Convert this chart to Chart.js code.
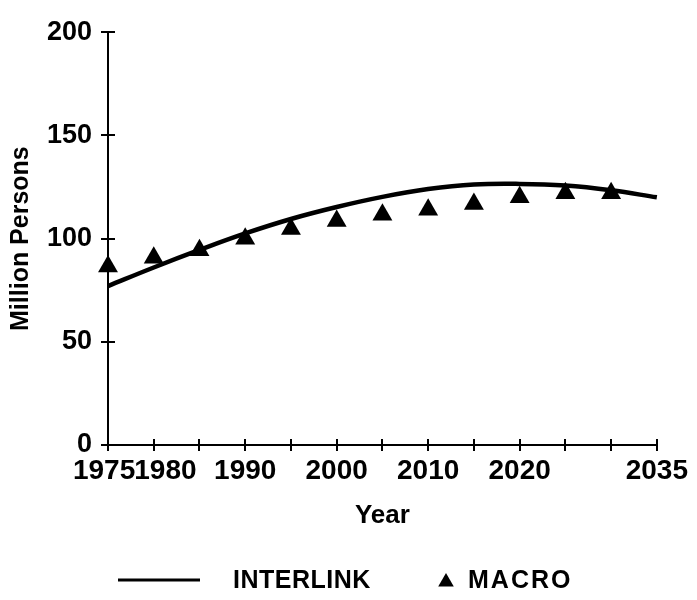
<!DOCTYPE html>
<html>
<head>
<meta charset="utf-8">
<script src="https://cdn.jsdelivr.net/npm/chart.js@4/dist/chart.umd.min.js"></script>
<style>
  html, body { margin: 0; padding: 0; background: #fff; }
  #wrap { width: 697px; height: 600px; position: relative; }
</style>
</head>
<body>
<div id="wrap"><canvas id="c" width="697" height="600"></canvas></div>
<script>
// ---- Data ----
const interlinkYears = [1975, 1980, 1985, 1990, 1995, 2000, 2005, 2010, 2015, 2020, 2025, 2030, 2035];
const interlinkValues = [77, 86, 94.5, 102.5, 109.5, 115.3, 120.2, 124, 126.2, 126.5, 125.7, 123.4, 120];
const macroYears = [1975, 1980, 1985, 1990, 1995, 2000, 2005, 2010, 2015, 2020, 2025, 2030];
const macroValues = [86.5, 90.7, 94.3, 99.9, 104.6, 108.5, 111.6, 114, 116.8, 120, 122, 122];

const xTickYears = [1975, 1980, 1985, 1990, 1995, 2000, 2005, 2010, 2015, 2020, 2025, 2030, 2035];
const xTickLabels = ['1975', '1980', '', '1990', '', '2000', '', '2010', '', '2020', '', '', '2035'];
const yTickValues = [0, 50, 100, 150, 200];
const yTickLabels = ['0', '50', '100', '150', '200'];

const seriesNames = ['INTERLINK', 'MACRO'];
const xTitle = 'Year';
const yTitle = 'Million Persons';

const FONT = "'Liberation Sans', Arial, Helvetica, sans-serif";
Chart.defaults.font.family = FONT;
Chart.defaults.color = '#000';

// crossing tick marks on both axes
const crossTicks = {
  id: 'crossTicks',
  afterDatasetsDraw(chart) {
    const { ctx, chartArea, scales } = chart;
    ctx.save();
    ctx.strokeStyle = '#000';
    ctx.lineWidth = 2;
    scales.x.ticks.forEach(t => {
      const px = Math.round(scales.x.getPixelForValue(t.value));
      ctx.beginPath();
      ctx.moveTo(px, chartArea.bottom - 6);
      ctx.lineTo(px, chartArea.bottom + 6);
      ctx.stroke();
    });
    scales.y.ticks.forEach(t => {
      const py = Math.round(scales.y.getPixelForValue(t.value));
      ctx.beginPath();
      ctx.moveTo(chartArea.left - 7, py);
      ctx.lineTo(chartArea.left + 7, py);
      ctx.stroke();
    });
    ctx.restore();
  }
};

// legend drawn below the axis title
const bottomLegend = {
  id: 'bottomLegend',
  afterDraw(chart) {
    const { ctx } = chart;
    const y = 580;
    ctx.save();
    ctx.fillStyle = '#000';
    ctx.strokeStyle = '#000';
    ctx.lineWidth = 3;
    ctx.beginPath();
    ctx.moveTo(118, y);
    ctx.lineTo(200, y);
    ctx.stroke();
    ctx.font = 'bold 25px ' + FONT;
    if ('letterSpacing' in ctx) ctx.letterSpacing = '0.5px';
    ctx.textBaseline = 'middle';
    ctx.textAlign = 'left';
    ctx.fillText(seriesNames[0], 233, y + 1);
    // triangle marker
    const r = 9, cx = 446, cy = y + 2;
    ctx.beginPath();
    ctx.moveTo(cx, cy - r);
    ctx.lineTo(cx + r * Math.sin(2 * Math.PI / 3), cy - r * Math.cos(2 * Math.PI / 3));
    ctx.lineTo(cx + r * Math.sin(4 * Math.PI / 3), cy - r * Math.cos(4 * Math.PI / 3));
    ctx.closePath();
    ctx.fill();
    if ('letterSpacing' in ctx) ctx.letterSpacing = '2px';
    ctx.fillText(seriesNames[1], 468, y + 1);
    ctx.restore();
  }
};

new Chart(document.getElementById('c'), {
  type: 'line',
  data: {
    datasets: [
      {
        label: seriesNames[0],
        data: interlinkYears.map((x, i) => ({ x, y: interlinkValues[i] })),
        borderColor: '#000',
        borderWidth: 4.5,
        pointRadius: 0,
        tension: 0.4,
        fill: false,
        clip: false
      },
      {
        label: seriesNames[1],
        data: macroYears.map((x, i) => ({ x, y: macroValues[i] })),
        showLine: false,
        pointStyle: 'triangle',
        pointRadius: 11.5,
        backgroundColor: '#000',
        borderColor: '#000',
        borderWidth: 0,
        clip: false
      }
    ]
  },
  options: {
    responsive: false,
    animation: false,
    events: [],
    layout: { padding: { left: 0, right: 38, top: 21, bottom: 65 } },
    plugins: { legend: { display: false }, tooltip: { enabled: false } },
    scales: {
      x: {
        type: 'linear',
        min: xTickYears[0],
        max: xTickYears[xTickYears.length - 1],
        afterBuildTicks: s => { s.ticks = xTickYears.map(v => ({ value: v })); },
        afterFit: s => { s.height = 90; },
        grid: { display: false, drawTicks: false },
        border: { display: true, color: '#000', width: 2 },
        ticks: {
          autoSkip: false,
          maxRotation: 0,
          padding: 9,
          font: { size: 28, weight: 'bold' },
          color: '#000',
          callback: (v) => {
            const i = xTickYears.indexOf(v);
            let lab = i >= 0 ? xTickLabels[i] : '';
            // the reference nudges the crowded first two labels apart
            if (i === 0) lab = lab + ' ';
            if (i === 1) lab = '   ' + lab;
            return lab;
          }
        },
        title: { display: true, text: xTitle, font: { size: 26, weight: 'bold' }, color: '#000', padding: { top: 0, bottom: 4 } }
      },
      y: {
        min: yTickValues[0],
        max: yTickValues[yTickValues.length - 1],
        afterBuildTicks: s => { s.ticks = yTickValues.map(v => ({ value: v })); },
        afterFit: s => { s.width = 108; },
        grid: { display: false, drawTicks: false },
        border: { display: true, color: '#000', width: 2 },
        ticks: {
          padding: 16,
          font: { size: 27, weight: 'bold' },
          color: '#000',
          callback: (v) => {
            const i = yTickValues.indexOf(v);
            return i >= 0 ? yTickLabels[i] : '';
          }
        },
        title: { display: true, text: yTitle, font: { size: 25, weight: 'bold' }, color: '#000', padding: { top: 6, bottom: 0 } }
      }
    }
  },
  plugins: [crossTicks, bottomLegend]
});
</script>
</body>
</html>
